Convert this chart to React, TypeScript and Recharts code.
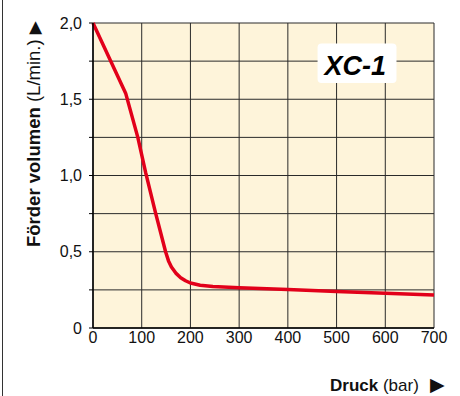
import { LineChart, Line, XAxis, YAxis, CartesianGrid, ReferenceArea, Label } from 'recharts'

// Druck (bar) vs Förder volumen (L/min.)
const pressure = [0, 67, 92, 108, 128, 149, 155, 161, 170, 180, 190, 200, 220, 246, 300, 400, 500, 600, 700]
const flow = [2.0, 1.54, 1.25, 1.02, 0.76, 0.5, 0.44, 0.4, 0.36, 0.33, 0.31, 0.295, 0.28, 0.272, 0.264, 0.252, 0.24, 0.228, 0.216]

const xTicks = [0, 100, 200, 300, 400, 500, 600, 700]
const yTicks = [0, 0.25, 0.5, 0.75, 1.0, 1.25, 1.5, 1.75, 2.0]
const yLabels: Record<string, string> = { '0': '0', '0.5': '0,5', '1': '1,0', '1.5': '1,5', '2': '2,0' }

const modelName = 'XC-1'
const boxX = [461, 623]
const boxY = [1.607, 1.865]

const data = pressure.map((p, i) => ({ p, q: flow[i] }))

const font = '"Liberation Sans", Arial, sans-serif'

function YTitle({ viewBox }: any) {
  const cx = 40
  const cy = viewBox.y + viewBox.height - 81
  return (
    <text transform={`translate(${cx},${cy}) rotate(-90)`} fontFamily={font} fontSize={18.5} fill="#111">
      <tspan fontWeight="bold">Förder volumen</tspan>
      <tspan> (L/min.) </tspan>
      <tspan fontFamily="DejaVu Sans" fontSize={17}>▶</tspan>
    </text>
  )
}

function XTitle() {
  return (
    <g fontFamily={font} fontSize={17} fill="#111">
      <text x={330} y={391}>
        <tspan fontWeight="bold">Druck</tspan>
        <tspan> (bar)</tspan>
      </text>
      <text x={430} y={391} fontFamily="DejaVu Sans" fontSize={19}>▶</text>
    </g>
  )
}

function BoxLabel({ viewBox }: any) {
  return (
    <text
      x={viewBox.x + 7}
      y={viewBox.y + 31}
      fontFamily={font}
      fontSize={27}
      fontWeight="bold"
      fontStyle="italic"
      fill="#000"
    >
      {modelName}
    </text>
  )
}

export default function App() {
  return (
    <div style={{ position: 'absolute', left: 0, top: 0, width: 460, height: 396, background: '#fff' }}>
      <div style={{ position: 'absolute', left: 2, top: 0, width: 1, height: 396, background: '#333' }} />
      <LineChart width={460} height={396} data={data} margin={{ top: 23, right: 26, left: 0, bottom: 38 }}>
        <CartesianGrid stroke="#2a2a2a" fill="#FEF4DA" fillOpacity={1} />
        <XAxis
          type="number"
          dataKey="p"
          domain={[0, 700]}
          ticks={xTicks}
          height={30}
          tickLine={false}
          tickSize={0}
          tickMargin={4}
          axisLine={{ stroke: '#000', strokeWidth: 1.5 }}
          tick={{ fill: '#111', fontSize: 16, fontFamily: font }}
        >
          <Label content={<XTitle />} />
        </XAxis>
        <YAxis
          type="number"
          dataKey="q"
          domain={[0, 2]}
          ticks={yTicks}
          width={93}
          interval={0}
          tickSize={4}
          tickMargin={7}
          tickLine={{ stroke: '#000' }}
          axisLine={{ stroke: '#000', strokeWidth: 1.5 }}
          tick={{ fill: '#111', fontSize: 16, fontFamily: font }}
          tickFormatter={(v: number) => yLabels[String(v)] ?? ''}
        >
          <Label content={<YTitle />} />
        </YAxis>
        <ReferenceArea
          x1={boxX[0]}
          x2={boxX[1]}
          y1={boxY[0]}
          y2={boxY[1]}
          fill="#fff"
          fillOpacity={1}
          stroke="none"
          radius={4}
          label={<BoxLabel />}
        />
        <Line
          type="linear"
          dataKey="q"
          stroke="#E2001A"
          strokeWidth={3.5}
          strokeLinejoin="round"
          dot={false}
          isAnimationActive={false}
        />
      </LineChart>
    </div>
  )
}
